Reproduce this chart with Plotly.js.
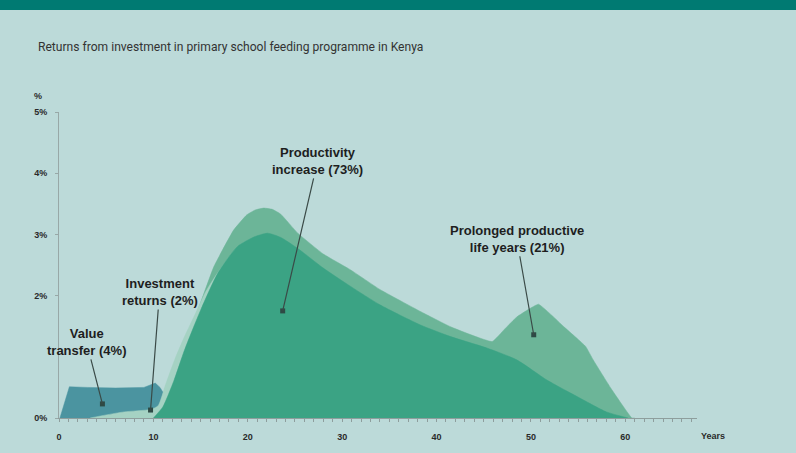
<!DOCTYPE html>
<html>
<head>
<meta charset="utf-8">
<script src="https://cdn.plot.ly/plotly-3.0.1.min.js"></script>
<style>html,body{margin:0;padding:0;background:#BCDAD9;}#chart{width:796px;height:453px;}</style>
</head>
<body>
<div id="chart"></div>
<script>
// ---- data (years, % return) ----
const prolongedYears = [10.3, 10.8, 12.5, 14.7, 16.4, 18.5, 19.9, 20.8, 21.7, 22.6, 23.5, 25.3, 28, 30.9, 34, 38.3, 41.5, 45.9, 47.2, 48.5, 49.8, 50.8, 52.2, 53.5, 55.8, 56.6, 58.5, 60.7, 61];
const prolongedVals  = [0, 0.29, 1.0, 1.76, 2.47, 3.07, 3.32, 3.40, 3.43, 3.41, 3.33, 3.02, 2.68, 2.42, 2.10, 1.74, 1.49, 1.25, 1.45, 1.65, 1.78, 1.86, 1.68, 1.49, 1.17, 0.95, 0.48, 0, 0];

const valueYears = [0.1, 1.1, 3, 6, 9, 9.8, 10.2, 10.7, 11.1, 11.6];
const valueVals  = [0, 0.51, 0.50, 0.49, 0.50, 0.55, 0.57, 0.50, 0.40, 0.25];

const investYears = [3.3, 5, 6.9, 9.7, 10.5, 11.3, 12.3, 13.3, 14.5, 15.5, 16.5, 17.5, 18.5, 19.5, 20.5, 22];
const investVals  = [0, 0.05, 0.10, 0.14, 0.2, 0.55, 0.97, 1.33, 1.72, 2.05, 2.3, 2.52, 2.72, 2.86, 2.93, 2.98];

const productYears = [10, 11, 11.5, 12.2, 13.3, 15, 16.8, 18.9, 20.7, 22.1, 23.5, 25.3, 28, 30.9, 34, 38.3, 41.5, 45.4, 48.5, 51.7, 54.9, 58, 60.3];
const productVals  = [0, 0.18, 0.35, 0.62, 1.11, 1.76, 2.36, 2.80, 2.96, 3.02, 2.95, 2.77, 2.45, 2.15, 1.85, 1.52, 1.33, 1.14, 0.95, 0.62, 0.35, 0.10, 0];

// ---- labels ----
const labelTexts = ["Value<br>transfer (4%)", "Investment<br>returns (2%)", "Productivity<br>increase (73%)", "Prolonged productive<br>life years (21%)"];
const labelX = [4.6, 9.7, 23.7, 50.3];     // pointer location (years)
const labelY = [0.23, 0.13, 1.75, 1.36];   // pointer location (%)
const labelAX = [-16, 9, 35, -17];
const labelAY = [-62, -118, -150, -96];

const xTickVals = [0, 10, 20, 30, 40, 50, 60];
const xTickText = ["0", "10", "20", "30", "40", "50", "60"];
const yTickVals = [0, 2, 3, 4, 5];
const yTickText = ["0%", "2%", "3%", "4%", "5%"];

const cProlonged = "#6CB598";
const cValue = "#4B94A0";
const cInvest = "#A5D2C3";
const cProduct = "#3BA384";

function area(xs, ys, color, name, shape, sm) {
  return {x: xs, y: ys, type: "scatter", mode: "lines", fill: "tozeroy",
    fillcolor: color, line: {color: color, width: 0.5, shape: shape, smoothing: sm}, name: name, hoverinfo: "skip"};
}

const traces = [
  area(prolongedYears, prolongedVals, cProlonged, "Prolonged productive life years", "spline", 0.35),
  area(valueYears, valueVals, cValue, "Value transfer", "linear", 0),
  area(investYears, investVals, cInvest, "Investment returns", "spline", 0.6),
  area(productYears, productVals, cProduct, "Productivity increase", "spline", 0.6),
  {x: labelX, y: labelY, type: "scatter", mode: "markers",
   marker: {symbol: "square", size: 5, color: "#2E4A45"}, hoverinfo: "skip"}
];

const boldFont = {family: "Liberation Sans, Arial, sans-serif", size: 9, color: "#2A2A2A", weight: "bold"};

const annotations = labelTexts.map((t, i) => ({
  x: labelX[i], y: labelY[i], xref: "x", yref: "y",
  text: t, showarrow: true, arrowhead: 0, arrowwidth: 1.2, arrowcolor: "#3A4A47",
  ax: labelAX[i], ay: labelAY[i], standoff: 0,
  font: {family: "Liberation Sans, Arial, sans-serif", size: 13, color: "#1E1E1E", weight: "bold"},
  align: "center"
}));

annotations.push({xref: "paper", yref: "paper", x: -0.033, y: 1.053, text: "%", showarrow: false,
  font: boldFont, xanchor: "center", yanchor: "middle"});
annotations.push({xref: "paper", yref: "paper", x: 1.025, y: -0.059, text: "Years", showarrow: false,
  font: boldFont, xanchor: "center", yanchor: "middle"});
annotations.push({xref: "paper", yref: "paper", x: -0.036, y: 1.212, text: "Returns from investment in primary school feeding programme in Kenya",
  showarrow: false, xanchor: "left", yanchor: "middle",
  font: {family: "Roboto, Open Sans, sans-serif", size: 12.1, color: "#333333"}});

const layout = {
  width: 796, height: 453,
  paper_bgcolor: "#BCDAD9", plot_bgcolor: "rgba(0,0,0,0)",
  margin: {l: 59, r: 99, t: 112, b: 35},
  showlegend: false,
  xaxis: {range: [0, 67.6], tickvals: xTickVals, ticktext: xTickText, showgrid: false, zeroline: false,
    showline: true, linecolor: "#8E9E9D", linewidth: 1, ticks: "outside", ticklen: 3, tickcolor: "#8E9E9D",
    ticklabelstandoff: 7, tickfont: boldFont,
    minor: {dtick: 1, ticks: "outside", ticklen: 3, tickcolor: "#8E9E9D", showgrid: false}},
  yaxis: {range: [0, 5], tickvals: yTickVals, ticktext: yTickText, showgrid: false, zeroline: false,
    showline: true, linecolor: "#98A8A7", linewidth: 1, ticks: "outside", ticklen: 3, tickcolor: "#98A8A7",
    ticklabelstandoff: 6, tickfont: boldFont},
  shapes: [{type: "rect", xref: "paper", yref: "paper", x0: -0.1, x1: 1.2, y0: 1.333, y1: 1.4,
    fillcolor: "#007A72", line: {width: 0}, layer: "below"}],
  annotations: annotations
};

Plotly.newPlot("chart", traces, layout, {staticPlot: true, displayModeBar: false});
</script>
</body>
</html>
